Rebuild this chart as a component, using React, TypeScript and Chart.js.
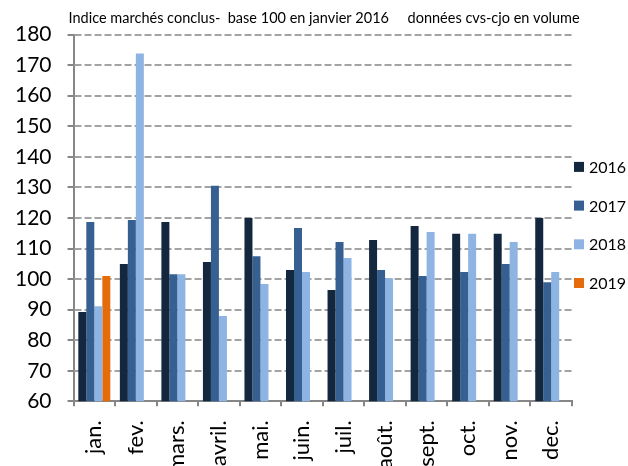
import { useEffect, useRef } from 'react';
import { Chart, registerables } from 'chart.js';

Chart.register(...registerables);

const months = ['jan.', 'fev.', 'mars.', 'avril.', 'mai.', 'juin.', 'juil.', 'août.', 'sept.', 'oct.', 'nov.', 'dec.'];
const values2016 = [89.2, 104.9, 118.7, 105.6, 120.0, 103.0, 96.4, 112.8, 117.4, 114.8, 114.8, 120.0];
const values2017 = [118.7, 119.3, 101.6, 130.5, 107.5, 116.7, 112.1, 103.0, 101.0, 102.3, 104.9, 99.0];
const values2018 = [91.1, 173.8, 101.6, 87.9, 98.4, 102.3, 106.9, 100.3, 115.4, 114.8, 112.1, 102.3];
const values2019 = [101.0, null, null, null, null, null, null, null, null, null, null, null];
const seriesLabels = ['2016', '2017', '2018', '2019'];
const seriesColors = ['#13273f', '#376092', '#8eb4e3', '#e46c0a'];
const yTicks = [60, 70, 80, 90, 100, 110, 120, 130, 140, 150, 160, 170, 180];
const titleText = 'Indice marchés conclus-  base 100 en janvier 2016     données cvs-cjo en volume';

const FONT = 'Lato, Calibri, Carlito, "Open Sans", sans-serif';

const gridPlugin = {
  id: 'dashedGrid',
  beforeDatasetsDraw(chart: any) {
    const { ctx, chartArea } = chart;
    const y = chart.scales.y;
    ctx.save();
    ctx.strokeStyle = '#a3a3a3';
    ctx.lineWidth = 2;
    ctx.setLineDash([7, 3]);
    yTicks.forEach((v) => {
      if (v === y.min) return;
      const py = Math.round(y.getPixelForValue(v));
      ctx.beginPath();
      ctx.moveTo(chartArea.left + 1, py);
      ctx.lineTo(chartArea.right, py);
      ctx.stroke();
    });
    ctx.setLineDash([]);
    ctx.strokeStyle = '#868686';
    yTicks.forEach((v) => {
      const py = Math.round(y.getPixelForValue(v));
      ctx.beginPath();
      ctx.moveTo(chartArea.left - 6, py);
      ctx.lineTo(chartArea.left, py);
      ctx.stroke();
    });
    ctx.restore();
  },
};

const titlePlugin = {
  id: 'customTitle',
  afterDraw(chart: any) {
    const { ctx, chartArea } = chart;
    ctx.save();
    ctx.font = `14.5px ${FONT}`;
    ctx.fillStyle = '#000';
    ctx.textAlign = 'left';
    ctx.textBaseline = 'middle';
    ctx.fillText(titleText, chartArea.left - 5, 18);
    ctx.restore();
  },
};

const legendPlugin = {
  id: 'customLegend',
  afterDraw(chart: any) {
    const { ctx, chartArea } = chart;
    const ds = chart.data.datasets;
    const spacing = 38.7;
    const centerY = (chartArea.top + chartArea.bottom) / 2 + 7;
    const startY = centerY - ((ds.length - 1) * spacing) / 2;
    ctx.save();
    ctx.font = `16px ${FONT}`;
    ctx.textAlign = 'left';
    ctx.textBaseline = 'middle';
    ds.forEach((d: any, i: number) => {
      const y = startY + i * spacing;
      const x = chartArea.right + 2;
      ctx.fillStyle = d.backgroundColor;
      ctx.fillRect(x, y - 5, 10, 10);
      ctx.fillStyle = '#000';
      ctx.fillText(d.label, x + 15, y + 1);
    });
    ctx.restore();
  },
};

export default function App() {
  const ref = useRef<HTMLCanvasElement | null>(null);

  useEffect(() => {
    document.body.style.margin = '0';
    const canvas = ref.current;
    if (!canvas) return;
    const seriesValues = [values2016, values2017, values2018, values2019];
    const chart = new Chart(canvas, {
      type: 'bar',
      data: {
        labels: months,
        datasets: seriesLabels.map((label, i) => ({
          label,
          data: seriesValues[i],
          backgroundColor: seriesColors[i],
          borderWidth: 0,
          categoryPercentage: 0.77,
          barPercentage: 1.0,
        })),
      },
      options: {
        animation: false,
        responsive: false,
        maintainAspectRatio: false,
        devicePixelRatio: 1,
        layout: { padding: { top: 32, right: 56, left: -7, bottom: -20 } },
        plugins: {
          legend: { display: false },
          title: { display: false },
          tooltip: { enabled: false },
        },
        scales: {
          x: {
            offset: true,
            grid: {
              display: true,
              offset: true,
              drawOnChartArea: false,
              drawTicks: true,
              tickLength: 5,
              color: '#868686',
              lineWidth: 2,
            },
            border: { display: true, color: '#868686', width: 2 },
            ticks: {
              minRotation: 90,
              maxRotation: 90,
              autoSkip: false,
              padding: 14,
              color: '#000',
              font: { family: FONT, size: 22 },
            },
          },
          y: {
            min: 60,
            max: 180,
            grid: { display: false, drawTicks: false, tickLength: 6 },
            border: { display: true, color: '#868686', width: 2 },
            ticks: {
              stepSize: 10,
              padding: 22,
              color: '#000',
              font: { family: FONT, size: 21 },
            },
          },
        },
      },
      plugins: [gridPlugin, titlePlugin, legendPlugin],
    });
    return () => chart.destroy();
  }, []);

  return <canvas ref={ref} width={628} height={466} style={{ display: 'block', width: 628, height: 466 }} />;
}
